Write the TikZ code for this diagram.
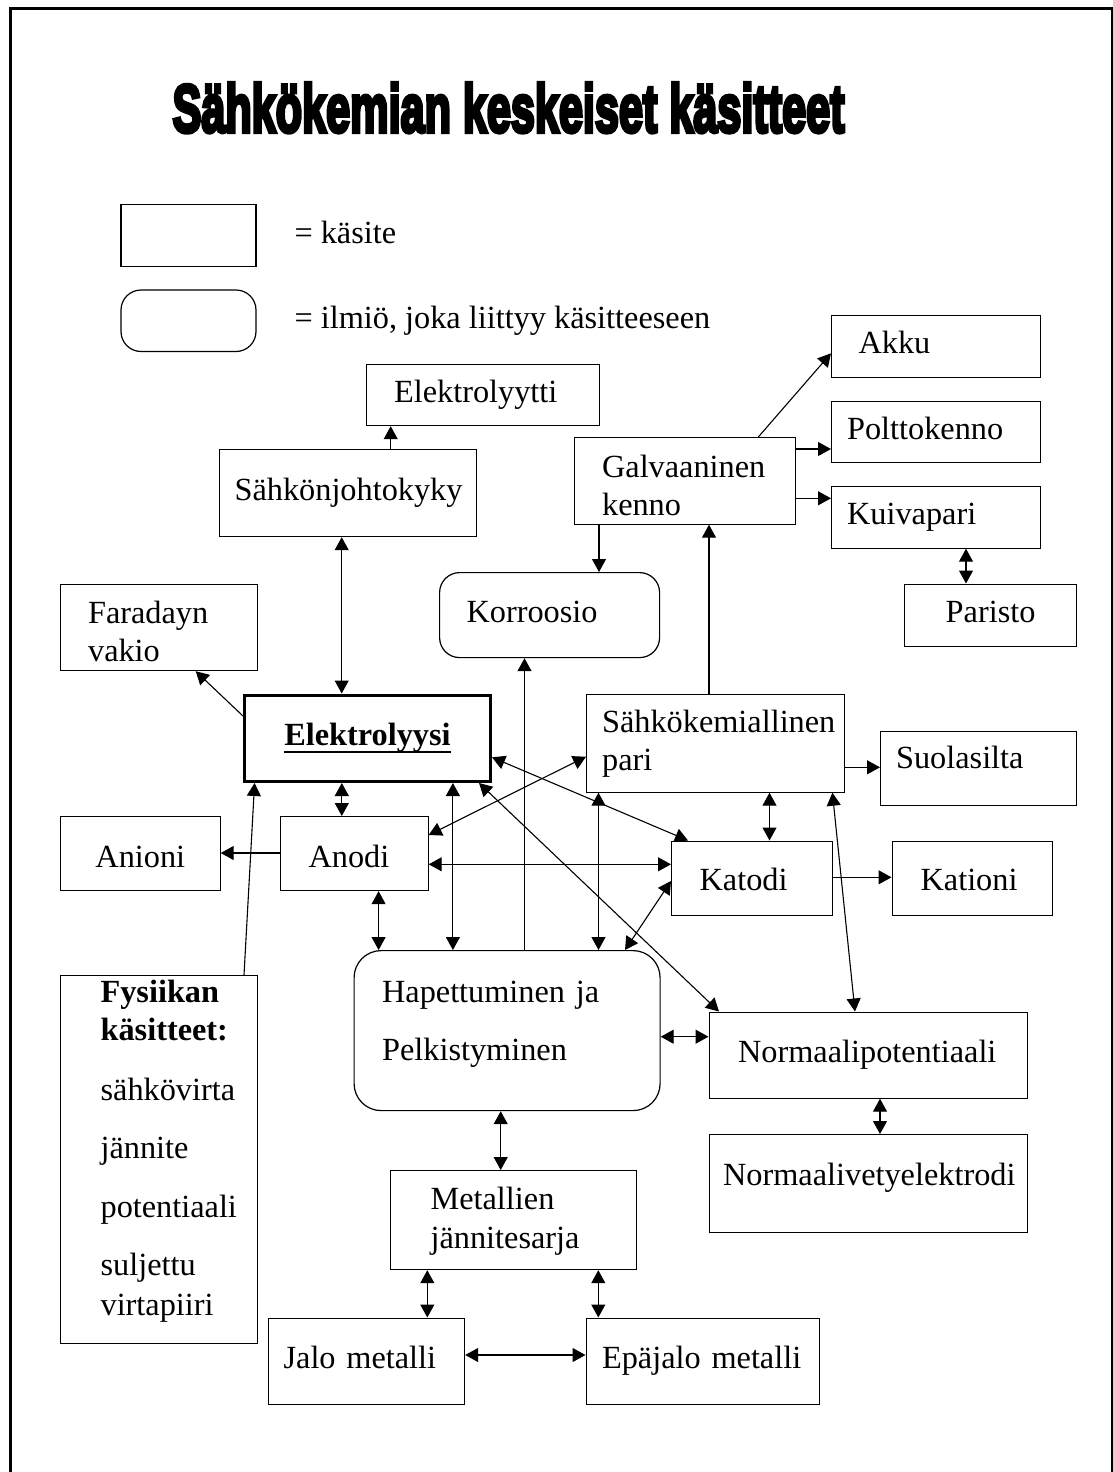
\documentclass[tikz,border=0pt]{standalone}
\usepackage{fontspec}
\setmainfont{Liberation Serif}
\newfontfamily\titlefont{Liberation Sans Bold}
\usepackage{graphicx}
\usetikzlibrary{arrows.meta}
\newcommand{\boxfont}{\fontsize{32.3}{38.3}\selectfont}
\newcommand{\lineunder}[1]{\setbox0=\hbox{#1}\rlap{\rule[-7pt]{\wd0}{2pt}}\box0}
\newcommand{\heavytext}[1]{\special{pdf:literal direct 2 Tr 0.6 w}#1\special{pdf:literal direct 0 Tr 1 w}}

\begin{document}
\begin{tikzpicture}[x = 1pt, y = -1pt, line width = 1.1pt,
  >={Triangle[length=13pt, width=14pt]},
  concept/.style = {draw, line width=1.2pt, anchor=north west, inner sep=0pt,
    align=left, font=\boxfont},
  word/.style = {concept, text height=22pt, text depth=7pt},
  lpad/.style = {execute at begin node={\leftskip=#1\relax}}]
\useasboundingbox (0,0) rectangle (1113,1472);
% Frame
\draw[line width=3pt] (10,1472) -- (10,8.5) -- (1111.5,8.5);
\draw[line width=2pt] (1111.5,7) -- (1111.5,1472);
% Title
\node[anchor=base west, inner sep=0pt] (title) at (172,132)
  {\resizebox{672pt}{49pt}{\titlefont\heavytext{Sähkökemian keskeiset käsitteet}}};
% Legend
\draw[line width=1.2pt] (121,204.5) rectangle (256,266.5);
\draw[line width=1.2pt, rounded corners=20pt] (121,290) rectangle (256,351.5);
\node[anchor=base west, inner sep=0pt, font=\boxfont] (kasite) at (294,243.3) {= käsite};
\node[anchor=base west, inner sep=0pt, font=\boxfont] (ilmio) at (294,328.3) {= ilmiö, joka liittyy käsitteeseen};
% Concepts, top
\node[word, text width=233pt, minimum height=61pt, lpad=27.5pt] (elyytti) at (366,364) {Elektrolyytti};
\node[word, text width=257pt, minimum height=87pt, lpad=15pt] (sahko) at (219,449) {Sähkönjohtokyky};
\node[concept, text width=196.5pt, minimum height=86pt, lpad=27.5pt, text height=30.3pt] (faraday) at (60,584) {Faradayn\\vakio};
\node[word, rounded corners=20pt, text width=220pt, minimum height=85pt, lpad=27pt] (korr) at (439,572) {Korroosio};
\node[word, text width=208.5pt, minimum height=62pt, lpad=27pt] (akku) at (831,314.5) {Akku};
\node[word, text width=208.5pt, minimum height=61pt, lpad=15.5pt] (poltto) at (831,401) {Polttokenno};
\node[word, text width=208.5pt, minimum height=61.5pt, lpad=15.5pt] (kuiva) at (831,486) {Kuivapari};
\node[word, text width=172pt, minimum height=62pt, align=center] (paristo) at (904,583.5) {Paristo};
\node[concept, text width=221pt, minimum height=86.5pt, lpad=28pt, text height=31.2pt] (galv) at (573.5,437) {Galvaaninen\\kenno};
% Concepts, middle
\node[word, line width=3pt, text width=246pt, minimum height=86.5pt, align=center] (elys) at (243,693.5) {\textbf{\lineunder{Elektrolyysi}}};
\node[concept, text width=257.5pt, minimum height=97.5pt, lpad=15.5pt, text height=23.2pt] (pari) at (586,694) {Sähkökemiallinen\\pari};
\node[word, text width=196pt, minimum height=73.5pt, lpad=15.5pt, text depth=21pt] (suola) at (880,731) {Suolasilta};
\node[word, text width=159.5pt, minimum height=74pt, align=center, text height=27.4pt, text depth=0pt] (anioni) at (60,816) {Anioni};
\node[word, text width=147.5pt, minimum height=74pt, lpad=28pt, text height=27.4pt, text depth=0pt] (anodi) at (280,816) {Anodi};
\node[word, text width=160.5pt, minimum height=74pt, lpad=28pt, text height=25pt, text depth=0pt] (katodi) at (671,840.5) {Katodi};
\node[word, text width=160pt, minimum height=74pt, lpad=28.5pt, text height=25pt, text depth=0pt] (kationi) at (891.5,840.5) {Kationi};
% Concepts, bottom
\node[concept, text width=196.5pt, minimum height=367.5pt, lpad=40pt, text height=6.1pt] (fys) at (60,975)
  {\textbf{Fysiikan}\\\textbf{käsitteet:}\\[21.7pt]sähkövirta\\[20pt]jännite\\[20pt]potentiaali\\[20pt]suljettu\\[1.7pt]virtapiiri};
\node[concept, rounded corners=27pt, text width=306pt, minimum height=160pt, lpad=28pt, text height=8.7pt] (hap) at (353.5,950) {Hapettuminen ja\\[20pt]Pelkistyminen};
\node[word, text width=318.5pt, minimum height=86pt, lpad=29pt] (norm) at (708.5,1011.5) {Normaalipotentiaali};
\node[word, text width=318.5pt, minimum height=98pt, lpad=14pt, text depth=18pt] (vety) at (708.5,1134) {Normaalivetyelektrodi};
\node[concept, text width=245.5pt, minimum height=99pt, lpad=40pt, text height=24.9pt] (metal) at (390,1170) {Metallien\\jännitesarja};
\node[word, text width=196.5pt, minimum height=86pt, lpad=15.5pt] (jalo) at (267.5,1317.5) {Jalo metalli};
\node[word, text width=233pt, minimum height=86pt, lpad=16pt] (epa) at (585.5,1317.5) {Epäjalo metalli};
% One-way arrows
\draw[->] (sahko.north -| 390.7,0) -- (elyytti.south -| 390.7,0);
\draw[->] (elys.west |- 0,716) -- (faraday.south -| 195.7,0);
\draw[->] (galv.north -| 758.3,0) -- (akku.west |- 0,353.3);
\draw[->] (galv.east |- 0,449) -- (poltto.west |- 0,449);
\draw[->] (galv.east |- 0,498.3) -- (kuiva.west |- 0,498.3);
\draw[->] (galv.south -| 599,0) -- (korr.north -| 599,0);
\draw[->] (pari.north -| 709,0) -- (galv.south -| 709,0);
\draw[->] (hap.north -| 524.5,0) -- (korr.south -| 524.5,0);
\draw[->] (anodi.west |- 0,853) -- (anioni.east |- 0,853);
\draw[->] (fys.north -| 244,0) -- (elys.south -| 254.6,0);
\draw[->] (pari.east |- 0,767.3) -- (suola.west |- 0,767.3);
\draw[->] (katodi.east |- 0,877.3) -- (kationi.west |- 0,877.3);
% Two-way arrows
\draw[<->] (sahko.south -| 341.7,0) -- (elys.north -| 341.7,0);
\draw[<->] (kuiva.south -| 966,0) -- (paristo.north -| 966,0);
\draw[<->] (elys.south -| 341.8,0) -- (anodi.north -| 341.8,0);
\draw[<->] (anodi.south -| 378.6,0) -- (hap.north -| 378.6,0);
\draw[<->] (elys.south -| 452.9,0) -- (hap.north -| 452.9,0);
\draw[<->] (anodi.east |- 0,835) -- (pari.west |- 0,756.7);
\draw[<->] (anodi.east |- 0,864.3) -- (katodi.west |- 0,864.3);
\draw[<->] (elys.east |- 0,757.3) -- (katodi.north -| 688,0);
\draw[<->] (elys.south -| 479,0) -- (norm.north -| 719,0);
\draw[<->] (pari.south -| 598.5,0) -- (hap.north -| 598.5,0);
\draw[<->] (katodi.west |- 0,881) -- (hap.north -| 625,0);
\draw[<->] (pari.south -| 769.5,0) -- (katodi.north -| 769.5,0);
\draw[<->] (pari.south -| 832.4,0) -- (norm.north -| 855,0);
\draw[<->] (hap.east |- 0,1036.7) -- (norm.west |- 0,1036.7);
\draw[<->] (norm.south -| 880,0) -- (vety.north -| 880,0);
\draw[<->] (hap.south -| 500.7,0) -- (metal.north -| 500.7,0);
\draw[<->] (metal.south -| 427.3,0) -- (jalo.north -| 427.3,0);
\draw[<->] (metal.south -| 598.3,0) -- (epa.north -| 598.3,0);
\draw[<->] (jalo.east |- 0,1355) -- (epa.west |- 0,1355);
\end{tikzpicture}
\end{document}
